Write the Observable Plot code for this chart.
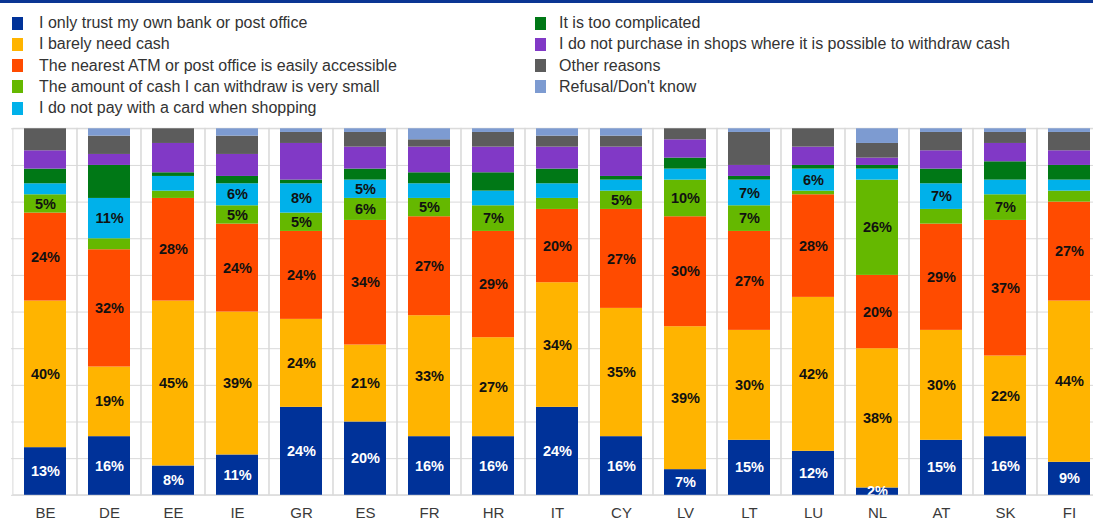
<!DOCTYPE html>
<html>
<head>
<meta charset="utf-8">
<script src="https://cdn.jsdelivr.net/npm/d3@7"></script>
<script src="https://cdn.jsdelivr.net/npm/@observablehq/plot@0.6"></script>
<style>
  html, body { margin: 0; padding: 0; background: #fff; overflow: hidden; }
  body { width: 1093px; height: 521px; position: relative; font-family: "Liberation Sans", Arial, sans-serif; }
  #topline { position: absolute; left: 0; top: 0; width: 1093px; height: 3px; background: #0b3593; }
  #legend { position: absolute; left: 0; top: 0; width: 1093px; height: 120px; }
  .item { position: absolute; height: 21.25px; line-height: 21.25px; font-size: 16px; color: #333; white-space: nowrap; }
  .sw { position: absolute; width: 11px; height: 13px; }
  .lbl { position: absolute; }
  #chart { position: absolute; left: 0; top: 120px; width: 1104px; height: 401px; }
  #chart svg { max-width: none !important; display: block; }
</style>
</head>
<body>
<div id="topline"></div>
<div id="legend"></div>
<div id="chart"></div>
<script>
const countries = ["BE","DE","EE","IE","GR","ES","FR","HR","IT","CY","LV","LT","LU","NL","AT","SK","FI"];

const reasons = [
  "I only trust my own bank or post office",
  "I barely need cash",
  "The nearest ATM or post office is easily accessible",
  "The amount of cash I can withdraw is very small",
  "I do not pay with a card when shopping",
  "It is too complicated",
  "I do not purchase in shops where it is possible to withdraw cash",
  "Other reasons",
  "Refusal/Don't know"
];

const colors = ["#003299","#ffb400","#ff4b00","#65b800","#00b1ea","#007816","#8139c6","#5c5c5c","#7d9bd1"];

const trustBank      = [13,16, 8,11,24,20,16,16,24,16, 7,15,12, 2,15,16, 9];
const barelyNeed     = [40,19,45,39,24,21,33,27,34,35,39,30,42,38,30,22,44];
const atmAccessible  = [24,32,28,24,24,34,27,29,20,27,30,27,28,20,29,37,27];
const amountSmall    = [ 5, 3, 2, 5, 5, 6, 5, 7, 3, 5,10, 7, 1,26, 4, 7, 3];
const noCard         = [ 3,11, 4, 6, 8, 5, 4, 4, 4, 3, 3, 7, 6, 3, 7, 4, 3];
const tooComplicated = [ 4, 9, 1, 2, 1, 3, 3, 5, 4, 1, 3, 1, 1, 1, 4, 5, 4];
const noShops        = [ 5, 3, 8, 6,10, 6, 7, 7, 6, 8, 5, 3, 5, 2, 5, 5, 4];
const otherReasons   = [ 6, 5, 4, 5, 3, 4, 2, 4, 3, 3, 3, 9, 5, 4, 5, 3, 5];
const refusal        = [ 0, 2, 0, 2, 1, 1, 3, 1, 2, 2, 0, 1, 0, 4, 1, 1, 1];

const series = [trustBank, barelyNeed, atmAccessible, amountSmall, noCard, tooComplicated, noShops, otherReasons, refusal];

const data = [];
series.forEach((vals, si) => {
  vals.forEach((v, ci) => data.push({country: countries[ci], reason: reasons[si], si, value: v}));
});

const showLabel = d => d.si < 3 || (d.si < 5 && d.value >= 5);

// Legend
const legend = document.getElementById("legend");
const cols = [[0,1,2,3,4],[5,6,7,8]];
const colX = [{sw: 12, tx: 39}, {sw: 535, tx: 559}];
cols.forEach((col, c) => {
  col.forEach((si, r) => {
    const it = document.createElement("div");
    it.className = "item";
    it.style.left = "0px";
    it.style.top = (12 + r * 21.25) + "px";
    const sw = document.createElement("div");
    sw.className = "sw";
    sw.style.left = colX[c].sw + "px";
    sw.style.top = "4.5px";
    sw.style.background = colors[si];
    const lb = document.createElement("div");
    lb.className = "lbl";
    lb.style.left = colX[c].tx + "px";
    lb.style.top = "0px";
    lb.textContent = reasons[si];
    it.appendChild(sw);
    it.appendChild(lb);
    legend.appendChild(it);
  });
});

const chart = Plot.plot({
  width: 1104,
  height: 401,
  marginTop: 8.3,
  marginBottom: 26.2,
  marginLeft: 11,
  marginRight: 0.75,
  style: {fontFamily: "'Liberation Sans', Arial, sans-serif", fontSize: "15px", color: "#3a3a3a", background: "white", overflow: "hidden", maxWidth: "none"},
  x: {domain: countries, paddingInner: 0.346, paddingOuter: 0.173, label: null, tickSize: 0, tickPadding: 12},
  y: {domain: [0, 100], axis: null},
  color: {domain: reasons, range: colors},
  marks: [
    Plot.ruleY(d3.range(0, 101, 10), {stroke: "#d9d9d9", strokeWidth: 1}),
    Plot.barY(countries, {x: d => d, y1: 0, y2: 100, fill: "none", stroke: "#d9d9d9", strokeWidth: 1, insetLeft: -11.11, insetRight: -11.11}),
    Plot.barY(data, {x: "country", y: "value", fill: "reason", order: reasons}),
    Plot.text(data, Plot.stackY({x: "country", y: "value", z: "reason", order: reasons,
      text: d => (d.si === 0 && showLabel(d)) ? d.value + "%" : "",
      fill: "white", fontWeight: "bold", fontSize: 14.5, clip: true})),
    Plot.text(data, Plot.stackY({x: "country", y: "value", z: "reason", order: reasons,
      text: d => (d.si !== 0 && showLabel(d)) ? d.value + "%" : "",
      fill: "#111", fontWeight: "bold", fontSize: 14.5, clip: true}))
  ]
});
document.getElementById("chart").appendChild(chart);
</script>
</body>
</html>
